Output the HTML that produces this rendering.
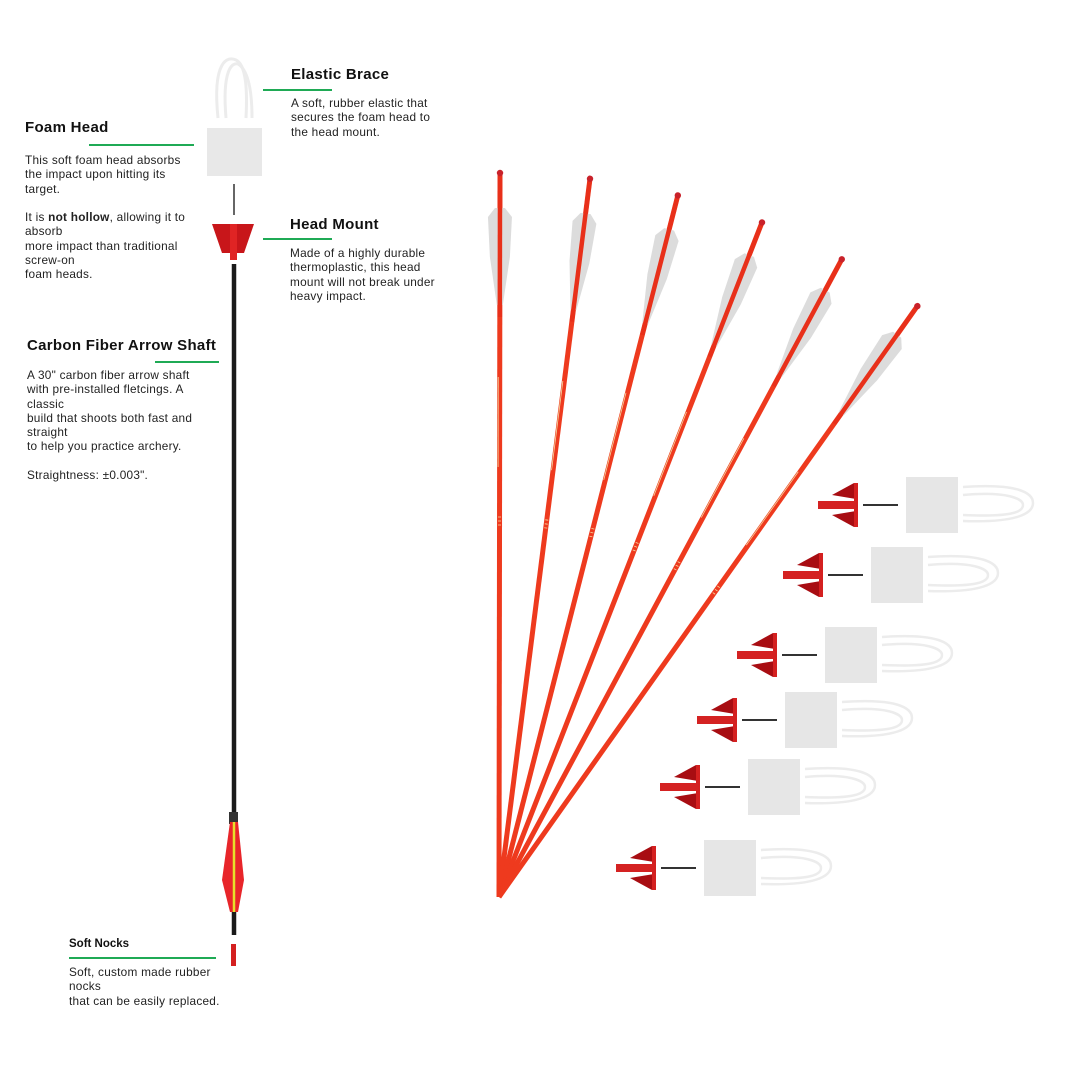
<!DOCTYPE html>
<html><head><meta charset="utf-8"><style>
html,body{margin:0;padding:0;background:#fff}
body{width:1080px;height:1080px;position:relative;overflow:hidden;font-family:"Liberation Sans",sans-serif;color:#222}
.h{position:absolute;font-weight:bold;font-size:15px;color:#111;letter-spacing:0.3px}
.p{position:absolute;font-size:11.8px;line-height:14.3px;color:#222;letter-spacing:0.25px}
.g{position:absolute;height:2px;background:#1faa55}
svg{position:absolute;left:0;top:0}
</style></head><body>
<svg width="1080" height="1080" viewBox="0 0 1080 1080">
<defs>
<g id="arrow">
  <line x1="0" y1="0" x2="0" y2="-724" stroke="#ee3a1e" stroke-width="5"/>
  <polygon points="-12,-680 -5,-689 5,-689 12,-680 10,-640 3,-592 -3,-592 -10,-640" fill="#dcdcdc"/>
  <line x1="0" y1="-580" x2="0" y2="-724" stroke="#e8301a" stroke-width="4.5"/>
  <circle cx="0" cy="-724" r="3.2" fill="#c9222a"/>
  <g stroke="#f3d9a0" stroke-width="0.8">
    <line x1="-1.5" y1="-520" x2="-1.5" y2="-430"/>
    <line x1="-1.5" y1="-380" x2="1.5" y2="-380"/>
    <line x1="-1.5" y1="-376" x2="1.5" y2="-376"/>
    <line x1="-1.5" y1="-372" x2="1.5" y2="-372"/>
  </g>
</g>
<g id="head">
  <polygon points="14,-10 36,-22 38,-22 38,-6" fill="#a80d12"/>
  <polygon points="14,10 36,22 38,22 38,6" fill="#a80d12"/>
  <rect x="36" y="-22" width="4" height="44" fill="#d42020"/>
  <rect x="0" y="-4" width="38" height="8" fill="#d42222"/>
  <line x1="45" y1="0" x2="80" y2="0" stroke="#333" stroke-width="2"/>
  <rect x="88" y="-28" width="52" height="56" fill="#e6e6e6"/>
  <g fill="none" stroke="#ececec" stroke-width="2.5">
    <path d="M145,-18 C200,-22 215,-12 215,-2 C215,8 200,18 145,16"/>
    <path d="M145,-10 C190,-14 205,-6 205,0 C205,8 190,12 145,10"/>
  </g>
</g>
</defs>
<g transform="translate(499,897)">
  <use href="#arrow" transform="rotate(0.08)"/>
  <use href="#arrow" transform="rotate(7.22)"/>
  <use href="#arrow" transform="rotate(14.3)"/>
  <use href="#arrow" transform="rotate(21.3)"/>
  <use href="#arrow" transform="rotate(28.26)"/>
  <use href="#arrow" transform="rotate(35.3)"/>
</g>
<use href="#head" transform="translate(818,505)"/>
<use href="#head" transform="translate(783,575)"/>
<use href="#head" transform="translate(737,655)"/>
<use href="#head" transform="translate(697,720)"/>
<use href="#head" transform="translate(660,787)"/>
<use href="#head" transform="translate(616,868)"/>

<g fill="none" stroke="#ececec" stroke-width="3">
  <path d="M218,118 C212,60 228,56 236,60 C244,64 248,80 246,118"/>
  <path d="M226,118 C222,70 232,62 238,64 C248,70 252,90 252,118"/>
</g>
<rect x="207" y="128" width="55" height="48" fill="#e8e8e8"/>
<line x1="234" y1="184" x2="234" y2="215" stroke="#333" stroke-width="1.5"/>
<polygon points="212,224 254,224 244,253 222,253" fill="#c8161a"/>
<rect x="230" y="224" width="7" height="36" fill="#e02424"/>
<line x1="234" y1="264" x2="234" y2="935" stroke="#1a1a1a" stroke-width="4.5"/>
<rect x="229" y="812" width="9" height="12" fill="#333"/>
<polygon points="230,822 238,822 244,880 238,912 230,912 222,880" fill="#e8252a"/>
<line x1="234" y1="822" x2="234" y2="912" stroke="#e6e02a" stroke-width="2.5"/>
<rect x="231" y="944" width="5" height="22" fill="#d42020"/>
</svg>

<div class="h" style="left:291px;top:66px">Elastic Brace</div>
<div class="g" style="left:263px;top:89px;width:69px"></div>
<div class="p" style="left:291px;top:96px">A soft, rubber elastic that<br>secures the foam head to<br>the head mount.</div>

<div class="h" style="left:25px;top:119px">Foam Head</div>
<div class="g" style="left:89px;top:144px;width:105px"></div>
<div class="p" style="left:25px;top:153px">This soft foam head absorbs<br>the impact upon hitting its<br>target.<br><br>It is <b>not hollow</b>, allowing it to<br>absorb<br>more impact than traditional<br>screw-on<br>foam heads.</div>

<div class="h" style="left:290px;top:216px">Head Mount</div>
<div class="g" style="left:263px;top:238px;width:69px"></div>
<div class="p" style="left:290px;top:246px">Made of a highly durable<br>thermoplastic, this head<br>mount will not break under<br>heavy impact.</div>

<div class="h" style="left:27px;top:337px">Carbon Fiber Arrow Shaft</div>
<div class="g" style="left:155px;top:361px;width:64px"></div>
<div class="p" style="left:27px;top:368px">A 30" carbon fiber arrow shaft<br>with pre-installed fletcings. A<br>classic<br>build that shoots both fast and<br>straight<br>to help you practice archery.<br><br>Straightness: ±0.003".</div>

<div class="h" style="left:69px;top:938px;font-size:11.5px;letter-spacing:0">Soft Nocks</div>
<div class="g" style="left:69px;top:957px;width:147px"></div>
<div class="p" style="left:69px;top:965px">Soft, custom made rubber<br>nocks<br>that can be easily replaced.</div>
</body></html>
